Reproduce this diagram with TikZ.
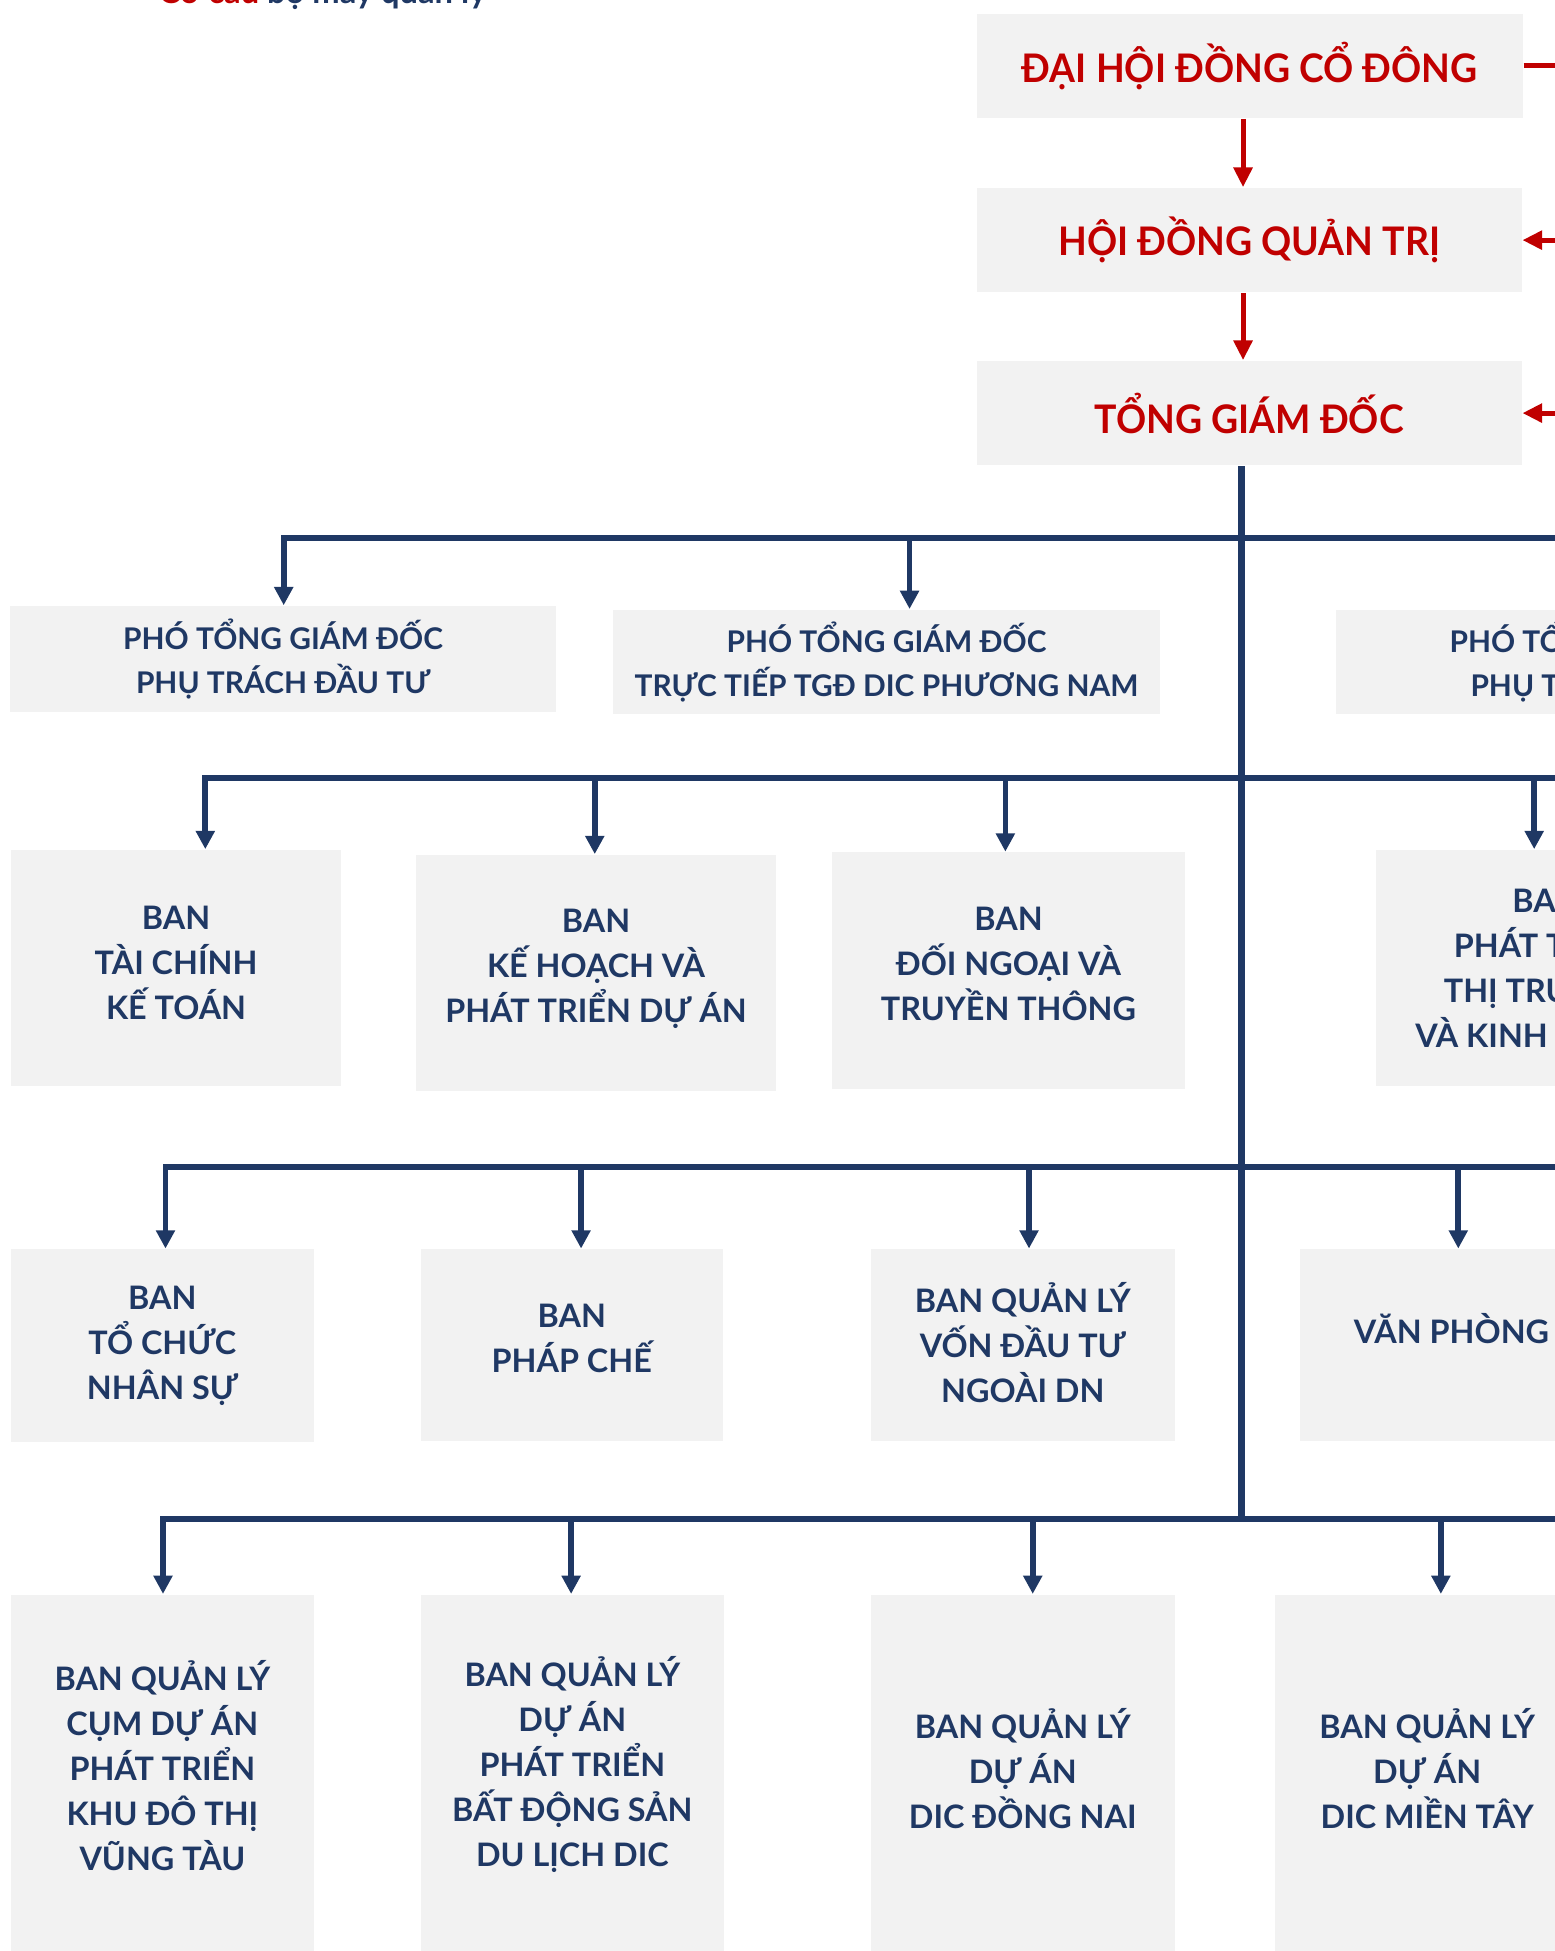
\documentclass[tikz,border=0pt]{standalone}
\usepackage{fontspec}
\setmainfont{Lato}
\newfontfamily\redfont{Lato}[FakeStretch=0.95]
\usetikzlibrary{arrows.meta}

\definecolor{dicred}{HTML}{C00000}
\definecolor{dicnavy}{HTML}{1F3864}
\definecolor{boxgrey}{HTML}{F2F2F2}

\tikzset{
	bx/.style 2 args={minimum width=#1*0.354pt, minimum height=#2*0.354pt},
	box/.style={fill=boxgrey, inner sep=0pt, align=center, text=dicnavy, font=\bfseries\fontsize{9.2}{12.8}\selectfont},
	ptbox/.style={box, font=\bfseries\fontsize{8.5}{12.4}\selectfont},
	topbox/.style={box, text=dicred, font=\redfont\bfseries\fontsize{11.2}{13}\selectfont},
	lbl/.style={inner sep=0pt, align=center, text=dicnavy, font=\bfseries\fontsize{9.2}{12.8}\selectfont},
	bus/.style={dicnavy, line width=1.7pt, line cap=rect},
	trunk/.style={dicnavy, line width=2pt},
	navyarr/.style={dicnavy, line width=1.6pt, -{Triangle[width=5.2pt,length=5.2pt]}},
	redarr/.style={dicred, line width=1.4pt, -{Triangle[width=5.2pt,length=5.6pt]}},
}

\begin{document}
\begin{tikzpicture}[x=0.354pt,y=-0.354pt]
	%Cut-out of the chart: (0,0) is the top left corner, y runs down
	\useasboundingbox (0,0) rectangle (1249,1568);

	%Heights of the four blue buses
	\pgfmathsetmacro{\busa}{432}
	\pgfmathsetmacro{\busb}{625}
	\pgfmathsetmacro{\busc}{938}
	\pgfmathsetmacro{\busd}{1221}
	%Right end of all lines (beyond the cut)
	\pgfmathsetmacro{\xend}{1262}

	%Heading, only its lower edge is left in the cut
	\node[anchor=base west, inner sep=0pt, font=\bfseries\fontsize{9.3}{11}\selectfont] (heading) at (127,3) {\textcolor{dicred}{Cơ cấu} \textcolor{dicnavy}{bộ máy quản lý}};

	%The three red boxes
	\draw node[topbox, bx={439}{84}] (dhdcd) at (1004.5,53) {ĐẠI HỘI ĐỒNG CỔ ĐÔNG};
	\draw node[topbox, bx={438}{84}] (hdqt) at (1004,193) {HỘI ĐỒNG QUẢN TRỊ};
	\draw node[topbox, bx={438}{84}] (tgd) at (1004,332) {TỔNG GIÁM ĐỐC};

	\coordinate (xred) at (999,0);
	\coordinate (xout) at (\xend,0);
	\draw[redarr] (dhdcd.south -| xred) -- (hdqt.north -| xred);
	\draw[redarr] (hdqt.south -| xred) -- (tgd.north -| xred);
	%Red links on the right
	\draw[dicred, line width=1.4pt] (dhdcd.east) -- (dhdcd.east -| xout);
	\draw[redarr] (hdqt.east -| xout) -- (hdqt.east);
	\draw[redarr] (tgd.east -| xout) -- (tgd.east);

	%Trunk
	\coordinate (trunkend) at (997.5,\busd);
	\draw[trunk] (tgd.south -| trunkend) -- (trunkend);

	%Row 1: deputies
	\draw node[ptbox, bx={439}{85}] (ptgdA) at (227.5,529.5) {PHÓ TỔNG GIÁM ĐỐC\\PHỤ TRÁCH ĐẦU TƯ};
	\draw node[ptbox, bx={439}{84}] (ptgdB) at (712.5,532) {PHÓ TỔNG GIÁM ĐỐC\\TRỰC TIẾP TGĐ DIC PHƯƠNG NAM};
	\draw node[ptbox, bx={439}{84}] (ptgdC) at (1293.5,532) {PHÓ TỔNG GIÁM ĐỐC\\PHỤ TRÁCH DỰ ÁN};
	\draw[bus] (228,\busa) -- (\xend,\busa);
	\foreach \xx/\nn in {228/ptgdA, 731/ptgdB}{
		\coordinate (tap) at (\xx,\busa);
		\draw[navyarr] (tap) -- (tap |- \nn.north);
	}

	%Row 2
	\draw node[box, bx={265}{190}] (banA) at (141.5,778) {};
	\draw node[box, bx={290}{190}] (banB) at (479,782) {};
	\draw node[box, bx={283}{190}] (banC) at (810.5,780) {};
	\draw node[box, bx={274}{190}] (banD) at (1243,778) {BAN\\PHÁT TRIỂN\\THỊ TRƯỜNG\\VÀ KINH DOANH};
	\path (banA.center)+(0,-4) node[lbl] (banAtext) {BAN\\TÀI CHÍNH\\KẾ TOÁN};
	\path (banB.center)+(0,-3) node[lbl] (banBtext) {BAN\\KẾ HOẠCH VÀ\\PHÁT TRIỂN DỰ ÁN};
	\path (banC.center)+(0,-5) node[lbl] (banCtext) {BAN\\ĐỐI NGOẠI VÀ\\TRUYỀN THÔNG};
	\draw[bus] (165,\busb) -- (\xend,\busb);
	\foreach \xx/\nn in {165/banA, 478/banB, 808/banC, 1233/banD}{
		\coordinate (tap) at (\xx,\busb);
		\draw[navyarr] (tap) -- (tap |- \nn.north);
	}

	%Row 3
	\draw node[box, bx={243}{155}] (banE) at (130.5,1081.5) {BAN\\TỔ CHỨC\\NHÂN SỰ};
	\draw node[box, bx={243}{154}] (banF) at (459.5,1081) {};
	\draw node[box, bx={244}{154}] (banG) at (822,1081) {};
	\draw node[box, bx={243}{154}] (vp) at (1166.5,1081) {};
	\path (banF.center)+(0,-5) node[lbl] (banFtext) {BAN\\PHÁP CHẾ};
	\path (banG.center)+(0,-2) node[lbl] (banGtext) {BAN QUẢN LÝ\\VỐN ĐẦU TƯ\\NGOÀI DN};
	\path (vp.center)+(0,-13) node[lbl] (vptext) {VĂN PHÒNG};
	\draw[bus] (133,\busc) -- (\xend,\busc);
	\foreach \xx/\nn in {133/banE, 467/banF, 827/banG, 1172/vp}{
		\coordinate (tap) at (\xx,\busc);
		\draw[navyarr] (tap) -- (tap |- \nn.north);
	}

	%Row 4: project boards, cut at the bottom
	\draw node[box, bx={243}{300}, anchor=north] (bqlA) at (130.5,1281) {};
	\draw node[box, bx={244}{300}, anchor=north] (bqlB) at (460,1281) {};
	\draw node[box, bx={244}{300}, anchor=north] (bqlC) at (822,1281) {};
	\draw node[box, bx={244}{300}, anchor=north] (bqlD) at (1147,1281) {};
	\path (bqlA.north)+(0,138) node[lbl] (bqlAtext) {BAN QUẢN LÝ\\CỤM DỰ ÁN\\PHÁT TRIỂN\\KHU ĐÔ THỊ\\VŨNG TÀU};
	\path (bqlB.north)+(0,137) node[lbl] (bqlBtext) {BAN QUẢN LÝ\\DỰ ÁN\\PHÁT TRIỂN\\BẤT ĐỘNG SẢN\\DU LỊCH DIC};
	\path (bqlC.north)+(0,140) node[lbl] (bqlCtext) {BAN QUẢN LÝ\\DỰ ÁN\\DIC ĐỒNG NAI};
	\path (bqlD.north)+(0,140) node[lbl] (bqlDtext) {BAN QUẢN LÝ\\DỰ ÁN\\DIC MIỀN TÂY};
	\draw[bus] (131,\busd) -- (\xend,\busd);
	\foreach \xx/\nn in {131/bqlA, 459/bqlB, 830/bqlC, 1158/bqlD}{
		\coordinate (tap) at (\xx,\busd);
		\draw[navyarr] (tap) -- (tap |- \nn.north);
	}
\end{tikzpicture}
\end{document}
